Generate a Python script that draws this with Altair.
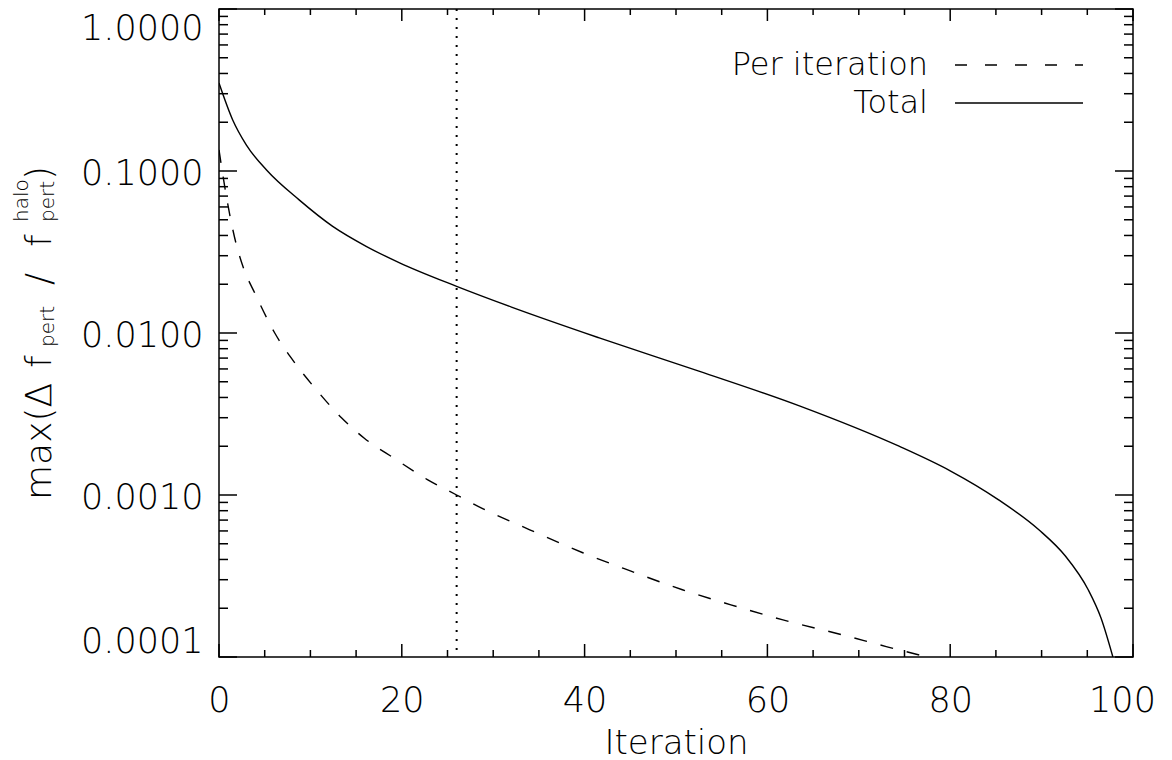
import altair as alt
import pandas as pd

# ---------------- data ----------------
total_x = [0, 1.5, 3, 5.2, 8.8, 12.4, 16.1, 19.7, 26, 32, 41.6, 52.5, 63.5, 74.4,
           80, 85.3, 89.7, 92.6, 95.1, 96.5, 97.8]
total_y = [0.349, 0.2065, 0.1445, 0.1014, 0.0661, 0.0457, 0.0343, 0.0272, 0.0194,
           0.01445, 0.00933, 0.00582, 0.00355, 0.0020, 0.00141, 0.000933, 0.00061,
           0.00042, 0.00026, 0.000174, 0.0001]

per_x = [0, 0.8, 1.7, 2.7, 3.9, 6.1, 8.3, 10.4, 13.4, 15.9, 19.2, 22.8, 26, 28.9,
         34, 39.8, 45, 50.7, 56, 61.6, 68.2, 73, 77.5]
per_y = [0.135, 0.07, 0.039, 0.025, 0.0177, 0.010, 0.00653, 0.00464, 0.0030,
         0.00224, 0.00168, 0.001245, 0.00100, 0.000822, 0.00061, 0.00044, 0.00034,
         0.00026, 0.00021, 0.00017, 0.000137, 0.000116, 0.0001]

vline_x = [26]

x_major = [0, 20, 40, 60, 80, 100]
x_minor = [5, 10, 15, 25, 30, 35, 45, 50, 55, 65, 70, 75, 85, 90, 95]
y_major = [1.0, 0.1, 0.01, 0.001, 0.0001]
y_minor = [k * 10.0 ** n for n in (-4, -3, -2, -1) for k in range(2, 10)]

legend_labels = ["Per iteration", "Total"]
x_title = "Iteration"

# ---------------- style ----------------
W, H = 914, 648
FONT = "DejaVu Sans"
FW = 200
FS = 35
TS = 36
SUB = 20

xs = alt.Scale(domain=[0, 100], nice=False, zero=False)
ys = alt.Scale(type="log", domain=[0.0001, 1], nice=False)

df_total = pd.DataFrame({"x": total_x, "y": total_y})
df_per = pd.DataFrame({"x": per_x, "y": per_y})

x_axis = alt.Axis(values=x_major, format="d", ticks=False, domain=False, grid=False,
                  labelFont=FONT, labelFontWeight=FW, labelFontSize=FS,
                  labelColor="black", labelPadding=26, labelFlush=False,
                  labelOffset=alt.ExprRef("datum.value == 100 ? -11 : 0"),
                  title=x_title, titleFont=FONT, titleFontWeight=FW,
                  titleFontSize=34, titleColor="black", titlePadding=8)
y_axis = alt.Axis(values=y_major, format=".4f", ticks=False, domain=False, grid=False,
                  labelFont=FONT, labelFontWeight=FW, labelFontSize=FS,
                  labelColor="black", labelPadding=16, labelFlush=True,
                  labelOffset=2, title=None)

X = lambda f: alt.X(f, scale=xs, axis=x_axis)
Y = lambda f: alt.Y(f, scale=ys, axis=y_axis)

total = alt.Chart(df_total).mark_line(color="black", strokeWidth=1.4,
                                       interpolate="monotone", clip=True).encode(
    x=X("x:Q"), y=Y("y:Q"))
per = alt.Chart(df_per).mark_line(color="black", strokeWidth=1.4, strokeDash=[13, 14],
                                   interpolate="monotone", clip=True).encode(
    x=X("x:Q"), y=Y("y:Q"))
vline = alt.Chart(pd.DataFrame({"x": vline_x})).mark_rule(
    color="black", strokeWidth=2, strokeDash=[2, 7]).encode(x=X("x:Q"))

def yticks(vals, length):
    d = pd.DataFrame({"v": vals})
    left = alt.Chart(d).mark_rule(color="black", strokeWidth=1.5).encode(
        y=Y("v:Q"), x=alt.value(0), x2=alt.value(length))
    right = alt.Chart(d).mark_rule(color="black", strokeWidth=1.5).encode(
        y=Y("v:Q"), x=alt.value(W), x2=alt.value(W - length))
    return [left, right]

def xticks(vals, lb, lt):
    d = pd.DataFrame({"v": vals})
    bot = alt.Chart(d).mark_rule(color="black", strokeWidth=1.5).encode(
        x=X("v:Q"), y=alt.value(H), y2=alt.value(H - lb))
    top = alt.Chart(d).mark_rule(color="black", strokeWidth=1.5).encode(
        x=X("v:Q"), y=alt.value(0), y2=alt.value(lt))
    return [bot, top]

ticks = yticks(y_major, 18) + yticks(y_minor, 9) + xticks(x_major, 13, 12) + xticks(x_minor, 7, 6)

# legend
leg = []
leg_y = [56, 94]
for lab, yy, dash in zip(legend_labels, leg_y, [[12, 18], None]):
    leg.append(alt.Chart(pd.DataFrame({"t": [lab]})).mark_text(
        font=FONT, fontWeight=FW, fontSize=32, color="black", align="right",
        baseline="middle").encode(text="t:N", x=alt.value(709), y=alt.value(yy)))
    kw = dict(color="black", strokeWidth=1.4)
    if dash:
        kw["strokeDash"] = dash
    leg.append(alt.Chart(pd.DataFrame({"t": [lab]})).mark_rule(**kw).encode(
        x=alt.value(736), x2=alt.value(864), y=alt.value(yy)))

# y title pieces (rotated, reading upward)
pieces = [
    ("max(\u0394", 491, -168, TS),
    ("f", 359, -168, TS),
    ("pert", 338, -165, SUB),
    ("/", 276, -168, TS),
    ("f", 238, -168, TS),
    ("halo", 213, -191, SUB),
    ("pert", 213, -165, SUB),
    (")", 171, -168, TS),
]
tt = []
for txt, yy, xx, fs in pieces:
    tt.append(alt.Chart(pd.DataFrame({"t": [txt]})).mark_text(
        font=FONT, fontWeight=FW, fontSize=fs, color="black", align="left",
        baseline="alphabetic", angle=270).encode(
        text="t:N", x=alt.value(xx), y=alt.value(yy)))

chart = alt.layer(total, per, vline, *ticks, *leg, *tt).properties(
    width=W, height=H,
    autosize=alt.AutoSizeParams(type="none"),
    padding={"left": 211, "top": 1, "right": 30, "bottom": 110},
    background="white",
).configure_view(stroke="black", strokeWidth=1.5)

chart.save("out.html", embed_options={"renderer": "svg", "actions": False})
